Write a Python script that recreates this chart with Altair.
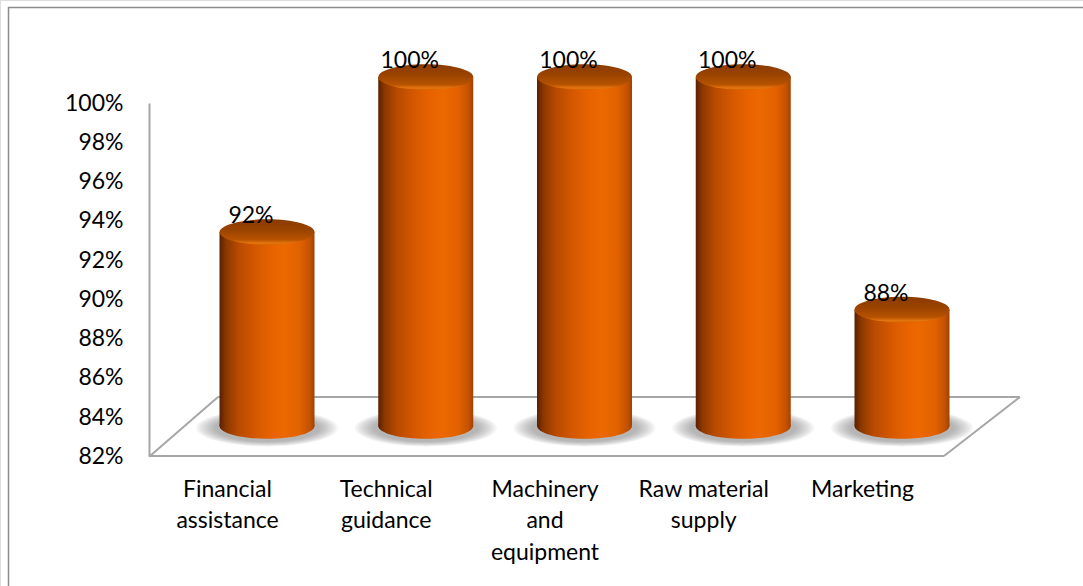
import json
import textwrap

import altair as alt
import pandas as pd

# Share of respondents reporting each kind of support
categories = [
    "Financial assistance",
    "Technical guidance",
    "Machinery and equipment",
    "Raw material supply",
    "Marketing",
]
shares = [92, 100, 100, 100, 88]
tick_values = [82, 84, 86, 88, 90, 92, 94, 96, 98, 100]

FONT = "Lato"
FONT_SIZE = 23
GRID_GRAY = "#a6a6a6"

df = pd.DataFrame({"category": categories, "share": shares})
df["base"] = min(tick_values)
df["label"] = df["share"].astype(str) + "%"

# wrap long category names onto several lines for the axis
wrapped = {c: textwrap.wrap(c, 12) for c in categories}
label_expr = " : ".join(
    f"datum.value == {json.dumps(c)} ? {json.dumps(lines)}" for c, lines in wrapped.items()
) + " : datum.label"

x_enc = alt.X(
    "category:N",
    sort=categories,
    scale=alt.Scale(type="point", range=[267, 902], padding=0),
    axis=alt.Axis(
        title=None,
        domain=False,
        ticks=False,
        tickSize=0,
        grid=False,
        labelAngle=0,
        labelAlign="center",
        labelBaseline="top",
        labelOffset=-40,
        labelPadding=0,
        offset=-108,
        labelExpr=label_expr,
        labelLineHeight=31.5,
        labelFontSize=FONT_SIZE,
        labelFont=FONT,
        labelColor="#000000",
        labelLimit=400,
        labelOverlap=False,
    ),
)

# perspective scale used by the cylinders
bar_scale = alt.Scale(domain=[min(tick_values), max(tick_values)], range=[426, 77], zero=False, nice=False)


def y_bar(field):
    return alt.Y(f"{field}:Q", scale=bar_scale, axis=None)


ELLIPSE = "M -1 0 A 1 0.27 0 0 0 1 0 A 1 0.27 0 0 0 -1 0 Z"
SHADOW = "M -1 0 A 1 0.26 0 0 0 1 0 A 1 0.26 0 0 0 -1 0 Z"
BAR_W = 95

body_fill = alt.LinearGradient(
    gradient="linear",
    x1=0, y1=0, x2=1, y2=0,
    stops=[
        alt.GradientStop(color="#5a2000", offset=0.0),
        alt.GradientStop(color="#8c3800", offset=0.07),
        alt.GradientStop(color="#b84a00", offset=0.2),
        alt.GradientStop(color="#d55800", offset=0.38),
        alt.GradientStop(color="#e86300", offset=0.55),
        alt.GradientStop(color="#ec6800", offset=0.68),
        alt.GradientStop(color="#e26200", offset=0.84),
        alt.GradientStop(color="#c45200", offset=0.95),
        alt.GradientStop(color="#a04200", offset=1.0),
    ],
)

top_fill = alt.LinearGradient(
    gradient="linear",
    x1=0, y1=0, x2=0, y2=1,
    stops=[
        alt.GradientStop(color="#8a3a00", offset=0.0),
        alt.GradientStop(color="#9c4400", offset=0.45),
        alt.GradientStop(color="#b85300", offset=0.8),
        alt.GradientStop(color="#e5760f", offset=0.93),
        alt.GradientStop(color="#d66400", offset=1.0),
    ],
)

frame_data = alt.Data(values=[{"k": 0}])

# outer chart border
border = alt.Chart(frame_data).mark_rect(
    fillOpacity=0, stroke="#8c8c8c", strokeWidth=1.5
).encode(x=alt.value(8.5), x2=alt.value(1100), y=alt.value(7.5), y2=alt.value(620))


def floor_edge(x0, y0, x1, y1):
    return alt.Chart(frame_data).mark_rule(color=GRID_GRAY, strokeWidth=2).encode(
        x=alt.value(x0), y=alt.value(y0), x2=alt.value(x1), y2=alt.value(y1)
    )


floor = [
    floor_edge(218, 397, 1020, 397),
    floor_edge(150, 456, 944, 456),
    floor_edge(150, 456, 218, 397),
    floor_edge(944, 456, 1020, 397),
]

# value axis drawn along the front-left edge
axis_layer = alt.Chart(df).mark_point(opacity=0).encode(
    y=alt.Y(
        "share:Q",
        scale=alt.Scale(domain=[min(tick_values), max(tick_values)], range=[456.5, 103], zero=False, nice=False),
        axis=alt.Axis(
            title=None,
            values=tick_values,
            labelExpr="datum.value + '%'",
            grid=False,
            ticks=False,
            tickSize=0,
            domain=True,
            domainColor=GRID_GRAY,
            domainWidth=2,
            offset=-149,
            labelPadding=26,
            labelFontSize=FONT_SIZE,
            labelFont=FONT,
            labelColor="#000000",
        ),
    )
)

# soft shadow under each cylinder, built from stacked translucent ellipses
shadow_widths = [142, 138, 134, 130, 126, 122, 118, 114, 110, 106]
shadows = [
    alt.Chart(df).mark_point(
        shape=SHADOW, filled=True, color="#666666", opacity=0.06, strokeWidth=0, yOffset=2
    ).encode(x=x_enc, y=y_bar("base"), size=alt.value(w * w))
    for w in shadow_widths
]

bottom = alt.Chart(df).mark_point(
    shape=ELLIPSE, filled=True, fill=body_fill, opacity=1, strokeWidth=0
).encode(x=x_enc, y=y_bar("base"), size=alt.value(BAR_W * BAR_W))

body = alt.Chart(df).mark_bar(width=BAR_W, fill=body_fill).encode(
    x=x_enc, y=y_bar("share"), y2="base:Q"
)

top = alt.Chart(df).mark_point(
    shape=ELLIPSE, filled=True, fill=top_fill, opacity=1, strokeWidth=0
).encode(x=x_enc, y=y_bar("share"), size=alt.value(BAR_W * BAR_W))

labels = alt.Chart(df).mark_text(
    font=FONT, fontSize=FONT_SIZE, color="#000000", dx=-16, dy=-9, baseline="alphabetic"
).encode(x=x_enc, y=y_bar("share"), text="label:N")

chart = (
    alt.layer(border, *floor, axis_layer, *shadows, bottom, body, top, labels)
    .resolve_scale(y="independent")
    .properties(width=1083, height=586, padding=0, autosize=alt.AutoSizeParams(type="none"))
    .configure_view(stroke=None)
    .configure(background="white")
)

chart.save("out.html", embed_options={"renderer": "svg", "actions": False})
